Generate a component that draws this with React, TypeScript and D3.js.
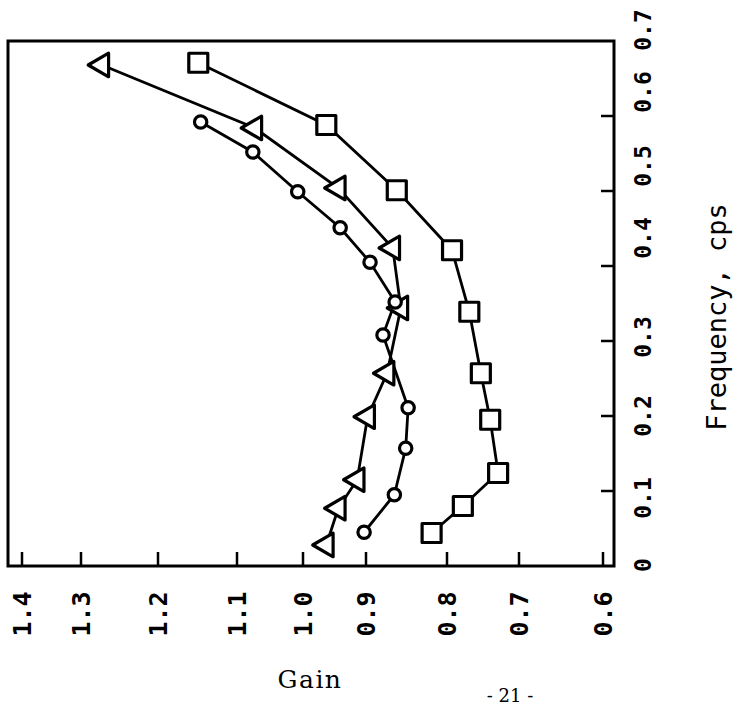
import React from 'react';
import * as d3 from 'd3';

// axis ticks
const gainTicks = [1.4, 1.3, 1.2, 1.1, 1.0, 0.9, 0.8, 0.7, 0.6];
const gainTickLabels = ['1.4', '1.3', '1.2', '1.1', '1.0', '0.9', '0.8', '0.7', '0.6'];
const freqTicks = [0, 0.1, 0.2, 0.3, 0.4, 0.5, 0.6, 0.7];
const freqTickLabels = ['0', '0.1', '0.2', '0.3', '0.4', '0.5', '0.6', '0.7'];

// squares
const squareGain = [1.149, 0.963, 0.862, 0.793, 0.769, 0.753, 0.74, 0.729, 0.778, 0.819];
const squareFreq = [0.671, 0.588, 0.501, 0.421, 0.339, 0.257, 0.195, 0.124, 0.08, 0.044];
// triangles
const triangleGain = [1.273, 1.073, 0.944, 0.867, 0.857, 0.874, 0.898, 0.914, 0.944, 0.963];
const triangleFreq = [0.668, 0.584, 0.504, 0.424, 0.344, 0.257, 0.199, 0.115, 0.077, 0.028];
// circles
const circleGain = [1.146, 1.076, 1.008, 0.941, 0.895, 0.864, 0.879, 0.848, 0.851, 0.865, 0.903];
const circleFreq = [0.592, 0.552, 0.499, 0.451, 0.405, 0.352, 0.308, 0.211, 0.157, 0.095, 0.045];

const width = 737;
const height = 705;
const frame = { left: 8, right: 614, top: 41, bottom: 566 };

// the scanned gain axis is hand ruled, so ticks are not evenly spaced
const gainScale = d3.scaleLinear()
  .domain(gainTicks)
  .range([22, 81, 158, 237, 303, 366, 447, 519, 603]);

const freqScale = d3.scaleLinear()
  .domain([0, 0.7])
  .range([frame.bottom, frame.top]);

// typed labels drift from the ruled ticks near the top
const freqLabelScale = d3.scaleLinear()
  .domain(freqTicks)
  .range([565, 498, 416, 337, 238, 166, 92, 30]);

const mono = "'DejaVu Sans Mono', 'Liberation Mono', monospace";
const serif = "'DejaVu Serif', 'Liberation Serif', serif";

type Pt = { g: number; f: number };
const zip = (g: number[], f: number[]): Pt[] => g.map((v, i) => ({ g: v, f: f[i] }));

const series = [
  { name: 'square', pts: zip(squareGain, squareFreq), symbol: d3.symbolSquare, size: 361, rot: 0 },
  { name: 'triangle', pts: zip(triangleGain, triangleFreq), symbol: d3.symbolTriangle, size: 240, rot: -90 },
  { name: 'circle', pts: zip(circleGain, circleFreq), symbol: d3.symbolCircle, size: 120, rot: 0 },
];

const line = d3.line<Pt>()
  .x((d) => gainScale(d.g))
  .y((d) => freqScale(d.f));

export default function App() {
  return (
    <svg
      width={width}
      height={height}
      style={{ position: 'absolute', left: 0, top: 0, background: '#fff' }}
    >
      <rect x={0} y={0} width={width} height={height} fill="#fff" />

      {/* frame */}
      <rect
        x={frame.left}
        y={frame.top}
        width={frame.right - frame.left}
        height={frame.bottom - frame.top}
        fill="none"
        stroke="#000"
        strokeWidth={3}
      />

      {/* gain ticks + labels */}
      {gainTicks.map((t, i) => (
        <g key={'g' + t}>
          <line x1={gainScale(t)} x2={gainScale(t)} y1={frame.bottom} y2={frame.bottom - 14}
            stroke="#000" strokeWidth={2.5} />
          <text
            transform={`translate(${gainScale(t)},614) rotate(-90)`}
            textAnchor="middle"
            dominantBaseline="central"
            fontFamily={mono}
            fontWeight="bold"
            fontSize={25}
            fill="#000"
          >{gainTickLabels[i]}</text>
        </g>
      ))}

      {/* frequency ticks + labels */}
      {freqTicks.map((t, i) => (
        <g key={'f' + t}>
          {t > 0 && t < 0.7 && (
            <line x1={frame.right} x2={frame.right - 13} y1={freqScale(t)} y2={freqScale(t)}
              stroke="#000" strokeWidth={2.5} />
          )}
          <text
            transform={`translate(643,${freqLabelScale(t)}) rotate(-90)`}
            textAnchor="middle"
            dominantBaseline="central"
            fontFamily={mono}
            fontWeight="bold"
            fontSize={23}
            fill="#000"
          >{freqTickLabels[i]}</text>
        </g>
      ))}

      {/* lines under markers */}
      {series.map((s) => (
        <path key={s.name + 'line'} d={line(s.pts) || ''} fill="none" stroke="#000" strokeWidth={2.8} />
      ))}

      {/* markers */}
      {series.map((s) => (
        <g key={s.name}>
          {s.pts.map((d, i) => (
            <path
              key={i}
              d={d3.symbol().type(s.symbol).size(s.size)() || ''}
              transform={`translate(${gainScale(d.g)},${freqScale(d.f)}) rotate(${s.rot})`}
              fill="#fff"
              stroke="#000"
              strokeWidth={3.2}
              strokeLinejoin="round"
            />
          ))}
        </g>
      ))}

      {/* axis titles */}
      <text x={310} y={688} textAnchor="middle" fontFamily={serif} fontSize={25} letterSpacing={1.5} fill="#000">Gain</text>
      <text
        transform="translate(716,317) rotate(-90)"
        textAnchor="middle"
        dominantBaseline="central"
        fontFamily={mono}
        fontSize={27}
        fill="#000"
      >Frequency, cps</text>

      {/* page number at the foot of the scan */}
      <text x={510} y={702} textAnchor="middle" fontFamily={serif} fontSize={18} fill="#000">- 21 -</text>
    </svg>
  );
}
